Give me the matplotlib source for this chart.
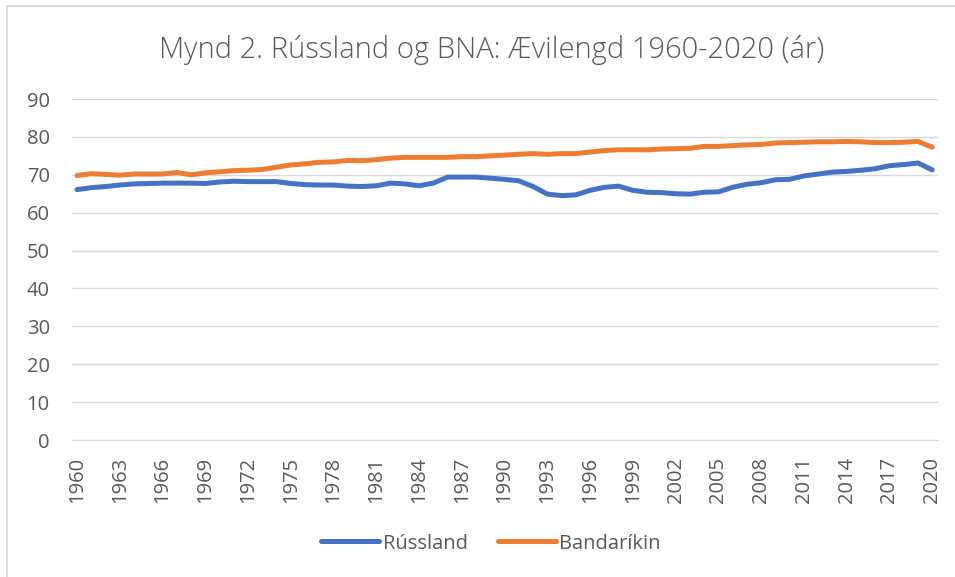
import matplotlib.pyplot as plt
from matplotlib.patches import Rectangle

years = list(range(1960, 2021))
russia = [66.1, 66.6, 66.9, 67.3, 67.6, 67.7, 67.8, 67.8, 67.8, 67.7,
          68.1, 68.3, 68.2, 68.2, 68.2, 67.7, 67.4, 67.3, 67.3, 67.0,
          66.9, 67.1, 67.8, 67.6, 67.1, 67.8, 69.4, 69.4, 69.4, 69.1,
          68.8, 68.4, 66.9, 64.9, 64.5, 64.7, 65.9, 66.7, 67.0, 65.9,
          65.4, 65.3, 65.0, 64.9, 65.4, 65.5, 66.7, 67.5, 67.9, 68.7,
          68.8, 69.7, 70.2, 70.7, 70.9, 71.2, 71.6, 72.4, 72.7, 73.1,
          71.3]
usa = [69.8, 70.3, 70.1, 69.9, 70.2, 70.2, 70.2, 70.6, 70.0, 70.5,
       70.8, 71.1, 71.2, 71.4, 72.0, 72.6, 72.9, 73.3, 73.4, 73.8,
       73.7, 74.0, 74.4, 74.6, 74.6, 74.6, 74.6, 74.8, 74.8, 75.0,
       75.2, 75.4, 75.6, 75.4, 75.6, 75.6, 76.0, 76.4, 76.6, 76.6,
       76.6, 76.8, 76.9, 77.0, 77.5, 77.5, 77.7, 77.9, 78.0, 78.4,
       78.5, 78.6, 78.7, 78.7, 78.8, 78.7, 78.5, 78.5, 78.6, 78.8,
       77.3]
y_ticks = list(range(0, 91, 10))
title = 'Mynd 2. Rússland og BNA: Ævilengd 1960-2020 (ár)'

plt.rcParams['font.family'] = ['Open Sans', 'DejaVu Sans']
grey = '#595959'

fig = plt.figure(figsize=(9.55, 5.77), dpi=100)
ax = fig.add_axes([0.0754, 0.2374, 0.907, 0.591])

ax.plot(years, russia, color='#4472C4', lw=3.6, label='Rússland', solid_capstyle='round')
ax.plot(years, usa, color='#ED7D31', lw=3.6, label='Bandaríkin', solid_capstyle='round')

ax.set_xlim(1959.65, 2020.42)
ax.set_ylim(0, 90)
ax.set_yticks(y_ticks)
ax.set_xticks(years[::3])
ax.set_xticklabels([str(y) for y in years[::3]], rotation=90)
ax.tick_params(length=0, labelsize=14.5, colors=grey)
ax.tick_params(axis='y', pad=16)
ax.tick_params(axis='x', pad=12)
ax.grid(axis='y', color='#D9D9D9', lw=1)
ax.set_axisbelow(True)
for s in ['top', 'right', 'left']:
    ax.spines[s].set_visible(False)
ax.spines['bottom'].set_color('#D9D9D9')

fig.text(0.515, 0.913, title, ha='center', va='center', fontsize=21, color=grey,
         fontweight='light')
fig.legend(loc='center', bbox_to_anchor=(0.514, 0.058), ncol=2, frameon=False,
           fontsize=14.5, labelcolor=grey, handlelength=2.9, columnspacing=1.5,
           handletextpad=0.15)

# chart border, only top and left edges fall inside the picture
fig.patches.append(Rectangle((0.0073, -0.05), 1.1, 1.0396, transform=fig.transFigure,
                             fill=False, edgecolor='#D9D9D9', lw=1.3))

fig.savefig('out.png', dpi=100)
